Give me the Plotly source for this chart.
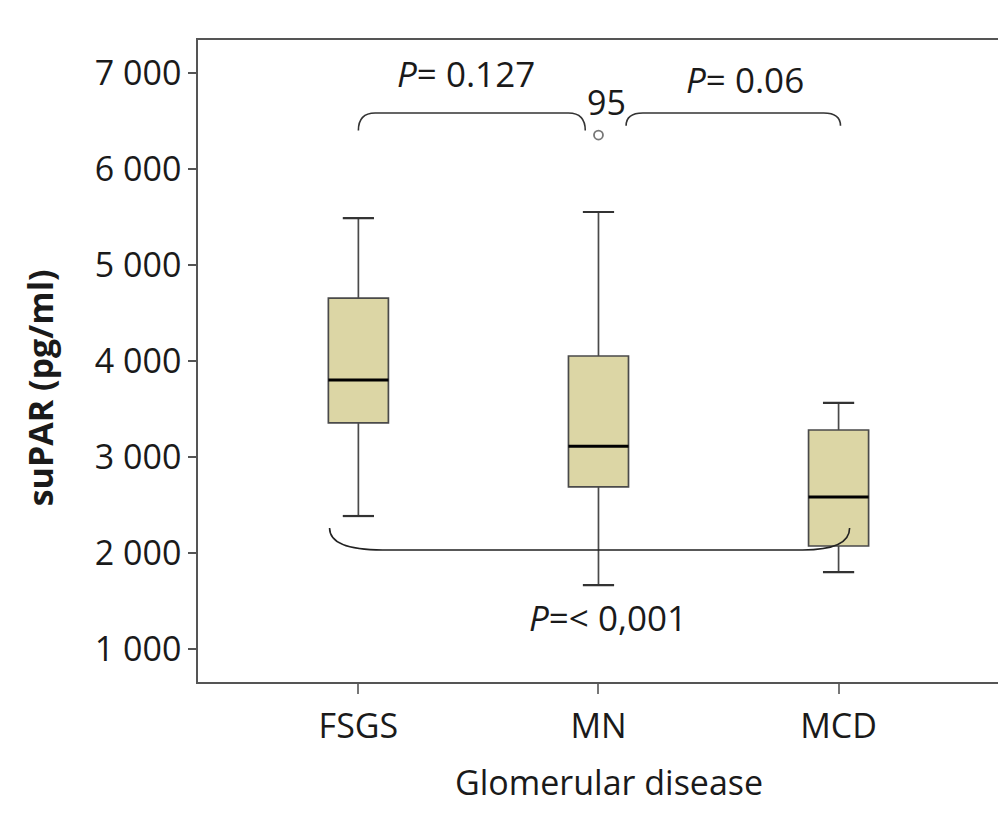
import plotly.graph_objects as go

categories = ["FSGS", "MN", "MCD"]
lower_whisker = [2385, 1665, 1800]
q1 = [3355, 2688, 2073]
median = [3802, 3112, 2583]
q3 = [4656, 4052, 3281]
upper_whisker = [5488, 5552, 3563]
outlier_group = [1]
outlier_value = [6354]
outlier_label = ["95"]

ytick_vals = [1000, 2000, 3000, 4000, 5000, 6000, 7000]
ytick_text = ["1 000", "2 000", "3 000", "4 000", "5 000", "6 000", "7 000"]

x_title = "Glomerular disease"
y_title = "suPAR (pg/ml)"

FONT = "Open Sans"
TXT = "#1a1a1a"
BOX_W = 0.25
CAP_W = 0.13
pos = list(range(len(categories)))

fig = go.Figure()

fig.add_trace(go.Box(
    x=pos, q1=q1, median=median, q3=q3,
    lowerfence=lower_whisker, upperfence=upper_whisker,
    width=BOX_W, fillcolor="#DCD6A5",
    line=dict(color="#4a4a4a", width=1.7),
    boxpoints=False, showlegend=False, hoverinfo="skip",
))

# medians (thick black) and whisker caps
for i in pos:
    fig.add_trace(go.Scatter(
        x=[i - BOX_W / 2, i + BOX_W / 2], y=[median[i], median[i]],
        mode="lines", line=dict(color="#000000", width=3.2),
        showlegend=False, hoverinfo="skip"))
    for v in (lower_whisker[i], upper_whisker[i]):
        fig.add_trace(go.Scatter(
            x=[i - CAP_W / 2, i + CAP_W / 2], y=[v, v],
            mode="lines", line=dict(color="#333333", width=2.2),
            showlegend=False, hoverinfo="skip"))

fig.add_trace(go.Scatter(
    x=outlier_group, y=outlier_value, mode="markers",
    marker=dict(symbol="circle-open", size=9, color="#777777",
                line=dict(width=1.8, color="#777777")),
    showlegend=False, hoverinfo="skip"))

# brackets
def bracket_top(x0, x1, y, yend, r=0.07):
    return (f"M {x0} {yend} Q {x0} {y} {x0 + r} {y} L {x1 - r} {y} "
            f"Q {x1} {y} {x1} {yend}")

shapes = [
    dict(type="path", path=bracket_top(0.0, 0.945, 6583, 6400),
         xref="x", yref="y", line=dict(color="#333333", width=1.6)),
    dict(type="path", path=bracket_top(1.115, 2.008, 6583, 6450),
         xref="x", yref="y", line=dict(color="#333333", width=1.6)),
    dict(type="path",
         path="M -0.12 2260 Q -0.12 2031 0.1 2031 L 1.85 2031 Q 2.046 2031 2.046 2260",
         xref="x", yref="y", line=dict(color="#222222", width=1.6)),
]

annotations = [
    dict(x=0.45, y=6990, xref="x", yref="y", text="<i>P</i>= 0.127",
         showarrow=False, font=dict(family=FONT, size=35, color=TXT)),
    dict(x=1.61, y=6930, xref="x", yref="y", text="<i>P</i>= 0.06",
         showarrow=False, font=dict(family=FONT, size=35, color=TXT)),
    dict(x=1.033, y=6700, xref="x", yref="y", text=outlier_label[0],
         showarrow=False, font=dict(family=FONT, size=34, color=TXT)),
    dict(x=1.04, y=1323, xref="x", yref="y", text="<i>P</i>=< 0,001",
         showarrow=False, font=dict(family=FONT, size=35, color=TXT)),
    # axis titles
    dict(x=0.514, y=-0.156, xref="paper", yref="paper", text=x_title,
         xanchor="center", yanchor="middle", showarrow=False,
         font=dict(family=FONT, size=34, color=TXT)),
    dict(x=-0.197, y=0.458, xref="paper", yref="paper",
         text=f"<b>{y_title}</b>", textangle=-90,
         xanchor="center", yanchor="middle", showarrow=False,
         font=dict(family=FONT, size=34, color=TXT)),
]

# page body has an 8px default margin, so the figure is sized to fit
fig.update_layout(
    width=998, height=814,
    margin=dict(l=190, r=6, t=32, b=140),
    paper_bgcolor="white", plot_bgcolor="white",
    shapes=shapes, annotations=annotations,
    font=dict(family=FONT, size=34, color=TXT),
    xaxis=dict(
        range=[-0.668, 2.664], tickvals=pos, ticktext=categories,
        showgrid=False, zeroline=False,
        showline=True, mirror=True, linecolor="#555555", linewidth=1.6,
        ticks="outside", ticklen=10, tickcolor="#777777", tickwidth=1.6,
        ticklabelstandoff=3,
        tickfont=dict(family=FONT, size=34, color=TXT),
    ),
    yaxis=dict(
        range=[656, 7344], tickvals=ytick_vals, ticktext=ytick_text,
        showgrid=False, zeroline=False,
        showline=True, mirror=True, linecolor="#555555", linewidth=1.6,
        ticks="outside", ticklen=8, tickcolor="#555555", tickwidth=1.6,
        tickfont=dict(family=FONT, size=34, color=TXT),
    ),
)

fig.write_html("out.html")
